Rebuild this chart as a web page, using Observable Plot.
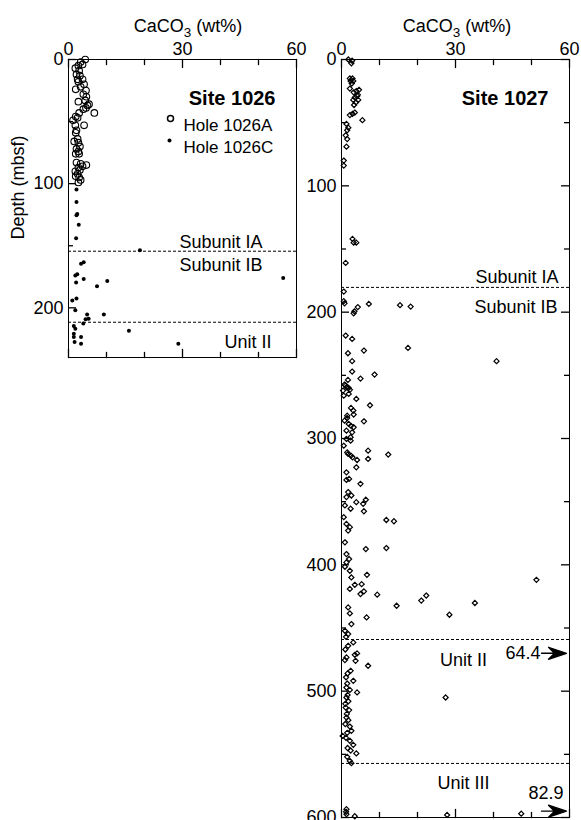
<!DOCTYPE html>
<html><head><meta charset="utf-8">
<script src="https://cdn.jsdelivr.net/npm/d3@7"></script>
<script src="https://cdn.jsdelivr.net/npm/@observablehq/plot@0.6"></script>
<style>
body{margin:0;background:#fff;font-family:"Liberation Sans",Arial,sans-serif;}
#wrap{position:relative;width:581px;height:820px;overflow:hidden;background:#fff;}
.panel{position:absolute;top:0;}
.title{position:absolute;top:17px;width:200px;text-align:center;font-size:18px;line-height:18px;color:#000;z-index:2;white-space:nowrap;}
.title sub{font-size:13.5px;vertical-align:-5px;line-height:0;}
</style></head>
<body><div id="wrap">
<div class="title" style="left:88px">CaCO<sub>3</sub> (wt%)</div>
<div class="title" style="left:357px">CaCO<sub>3</sub> (wt%)</div>
</div>
<script>
// ---------- data: [depth (mbsf), CaCO3 (wt%)] ----------
const HOLE_1026A = [
 [0,4.4],[2,3.2],[5,2.6],[7,1.8],[4,3.7],[9,2.8],[12,2.1],[13,3.0],[16,2.4],[16,3.7],[18,2.6],[20,4.1],
 [24,1.9],[22,3.2],[25,4.6],[28,3.9],[30,4.7],[34,2.6],[33,4.4],[36,5.4],[37,5.0],[39,4.6],[40,3.9],
 [43,6.8],[43,2.8],[46,1.9],[49,1.2],[47,2.4],[53,4.1],[53,1.8],[57,2.1],[59,1.9],[64,2.4],[66,1.5],
 [67,2.6],[70,3.0],[72,2.1],[74,2.6],[76,2.8],[76,1.9],[83,2.1],[84,3.2],[85,4.7],[86,3.7],[87,2.6],
 [90,1.8],[89,3.0],[92,2.4],[94,1.9],[95,2.8],[97,3.2],[99,2.6]
];
const HOLE_1026C = [
 [104.7,2.1],[114.7,2.1],[124.4,2.3],[125.5,2.1],[133,2.7],[143.9,2.0],[153.6,18.8],[163.3,4.0],[164.4,3.3],
 [173,2.3],[174,1.8],[176.8,4.0],[179.5,2.0],[182.7,7.5],[178.4,10.2],[176,56.5],[192.5,2.1],[194,1.0],
 [201.9,1.8],[205.4,4.9],[205.4,9.3],[209.2,4.5],[208.7,5.3],[212.7,3.9],[214.6,1.4],[216.8,1.8],
 [218.4,15.9],[220.8,1.4],[223.5,1.4],[223.5,3.3],[227.5,1.6],[228.9,3.3],[228.9,28.9]
];
const SITE_1027 = [
 [0,1.8],[1,2.8],[3,2.6],[15,2.2],[15,2.9],[17,2.4],[17,3.1],[19,2.7],[23,2.2],[26,3.2],[25,3.9],[24,4.6],
 [28,4.3],[30,3.5],[29,4.1],[32,3.1],[32,4.4],[34,3.8],[36,3.3],[43,2.9],[44,2.2],[42,3.5],[48,5.5],
 [51,1.3],[54,1.8],[56,1.5],[60,1.1],[63,1.5],[69,1.3],[80,0.6],[84,0.6],[142,2.9],[145,3.2],[145,3.9],[161,1.1],
 [183.7,0.6],[191.3,0.6],[193,0.8],[193.5,7.2],[194.5,15.4],[195.6,18.2],[196,4.3],[199.3,3.4],[200.9,3.2],
 [218.5,1.1],[221.2,2.8],[228.3,17.5],[230.4,5.9],[232.5,1.7],[238.8,2.8],[238.8,40.8],[247,2.8],[249.4,8.7],
 [252.6,5.0],[253.6,1.7],[257.3,0.8],[258,1.1],[259.5,1.3],[260,1.9],[261.5,2.2],[262.1,0.4],[264.7,1.9],
 [266.1,0.6],[268.7,3.9],[273.7,7.5],[275.8,2.5],[277.9,3.1],[281,3.2],[281.9,1.5],[283.7,1.5],[285.9,0.8],
 [286.4,5.9],[288.5,1.9],[290,2.5],[291.1,3.2],[293.8,1.3],[295.1,2.8],[299,2.4],
 [300.3,1.3],[301.7,2.4],[305.7,0.6],[309.6,7.0],[311,1.5],[312.2,1.75],[312.7,12.3],[313.6,2.5],[314.9,2.9],
 [316.2,7.0],[317,4.1],[322.8,3.9],[326.8,1.3],[332,2.0],[332.8,1.3],[335.9,5.0],[342.4,1.75],[345.1,2.6],
 [346.4,1.3],[348.5,6.4],[350.4,3.9],[351.7,5.7],[353,0.9],[355.6,2.4],[357.6,5.9],[362.3,0.6],[364.5,11.8],
 [365.5,13.8],[367.6,1.3],[370.2,2.2],[372.9,1.75],[382.2,0.9],[386.7,11.8],[387.5,6.4],[391.5,1.3],[395.4,2.0],
 [398.1,1.3],[401.5,0.9],[404.7,2.2],[407.9,6.7],[410,2.6],[411.9,51.3],[415.3,5.3],[415.8,3.5],[419.1,2.2],
 [421,5.9],[423.1,5.0],[423.6,9.4],[424.3,22.3],[428.3,21.0],[430.2,35.1],[432.4,14.5],[433.7,1.75],[438.5,2.2],
 [439.5,28.4],[441.6,6.6],[446.9,2.6],[452.2,0.9],[454.8,1.75],[457,1.2],[461.4,3.1],[464.1,1.75],[467,1.0],
 [470.1,4.1],[471.2,3.5],[473.3,1.3],[475.4,0.9],[476,3.7],[479.9,7.0],[483.9,2.4],[486,1.6],[489,1.2],
 [491.8,3.1],[494,1.5],[497.1,1.3],[499,2.2],[501,4.1],[503,1.6],[505,1.3],[505,27.4],[508,1.8],[510,1.0],
 [513,1.1],[515,2.0],[518,1.4],[520.9,1.3],[523,1.8],[526,1.0],[528,2.2],[531.4,2.6],[533,1.5],[535.4,0.3],
 [537,1.2],[539.3,2.2],[542.5,3.1],[545,1.6],[547,2.4],[549.3,3.9],[552,1.5],[555.2,2.2],[557,2.6],
 [593.4,1.3],[595.5,1.2],[597.4,1.3],[599,3.5],[598,27.8],[597,47.3]
];
const OFFSCALE_1027 = [[470, 64.4], [595, 82.9]];
const BOUNDS_1026 = [154.4, 211.6];          // Subunit IA/IB, Unit II
const BOUNDS_1027 = [180.4, 459.1, 557.2];   // Subunit IA/IB, Unit II, Unit III
const X_MAJOR = [0, 30, 60];
const X_MINOR = [10, 20, 40, 50];
const Y_MAJOR_1026 = [0, 100, 200];
const Y_MINOR_1026 = [50, 150];
const Y_MAJOR_1027 = [0, 100, 200, 300, 400, 500, 600];
const Y_MINOR_1027 = [50, 150, 250, 350, 450, 550];

// ---------- helpers ----------
const FONT = '"Liberation Sans", Arial, Helvetica, sans-serif';
const FRAME_W = 228;
const tickShape = {draw(context, l) { context.moveTo(0, 0); context.lineTo(0, -l); }};
// inward x ticks (top and bottom) drawn as short vectors
function xTicks(vals, len) {
  const o = {length: len, anchor: "start", shape: tickShape, stroke: "black", strokeWidth: 1.3};
  return [
    Plot.vector(vals, {...o, x: d => d, frameAnchor: "top", rotate: 180}),
    Plot.vector(vals, {...o, x: d => d, frameAnchor: "bottom", rotate: 0})
  ];
}
// inward y ticks drawn as rules inset from the opposite side of the frame
function yTicks(vals, len, right) {
  const tk = {stroke: "black", strokeWidth: 1.3};
  const m = [Plot.ruleY(vals, {...tk, insetRight: FRAME_W - len})];
  if (right) m.push(Plot.ruleY(vals, {...tk, insetLeft: FRAME_W - len}));
  return m;
}
function frameAxes(yMajor, yMinor, right) {
  return [
    Plot.frame({stroke: "black"}),
    Plot.axisX({anchor: "top", ticks: X_MAJOR, tickSize: 0, tickPadding: 5, label: null}),
    Plot.axisY({anchor: "left", ticks: yMajor, tickSize: 0, tickPadding: 5, label: null}),
    ...xTicks(X_MAJOR, 8),
    ...xTicks(X_MINOR, 5),
    ...yTicks(yMajor, 8, right),
    ...yTicks(yMinor, 5, right)
  ];
}
const style = {fontFamily: FONT, fontSize: "18px", color: "black", background: "transparent", overflow: "visible"};
const dash = {stroke: "black", strokeWidth: 1, strokeDasharray: "3,2"};

// ---------- Site 1026 ----------
const left = Plot.plot({
  width: 300, height: 380,
  marginLeft: 68, marginRight: 4, marginTop: 59, marginBottom: 23,
  style,
  x: {domain: [0, 60]},
  y: {domain: [0, 240], reverse: true},
  marks: [
    ...frameAxes(Y_MAJOR_1026, Y_MINOR_1026, false),
    Plot.ruleY(BOUNDS_1026, dash),
    Plot.dot(HOLE_1026A, {x: d => d[1], y: d => d[0], r: 3.3, stroke: "black", strokeWidth: 1.1, fill: "none"}),
    Plot.dot(HOLE_1026C, {x: d => d[1], y: d => d[0], r: 2, fill: "black", stroke: "none"}),
    Plot.text(["Site 1026"], {frameAnchor: "top-right", dx: -21, dy: 31, textAnchor: "end", fontWeight: "bold", fontSize: 20}),
    Plot.dot(["Hole 1026A"], {frameAnchor: "top-left", dx: 102, dy: 59, r: 3, stroke: "black", fill: "none"}),
    Plot.text(["Hole 1026A"], {frameAnchor: "top-left", dx: 115, dy: 59, textAnchor: "start", fontSize: 17}),
    Plot.dot(["Hole 1026C"], {frameAnchor: "top-left", dx: 101, dy: 81, r: 2, fill: "black", stroke: "none"}),
    Plot.text(["Hole 1026C"], {frameAnchor: "top-left", dx: 115, dy: 81, textAnchor: "start", fontSize: 17}),
    Plot.text([BOUNDS_1026[0]], {y: d => d, text: () => "Subunit IA", frameAnchor: "right", textAnchor: "end", dx: -34, dy: -9}),
    Plot.text([BOUNDS_1026[0]], {y: d => d, text: () => "Subunit IB", frameAnchor: "right", textAnchor: "end", dx: -34, dy: 14}),
    Plot.text([BOUNDS_1026[1]], {y: d => d, text: () => "Unit II", frameAnchor: "right", textAnchor: "end", dx: -25, dy: 20}),
    Plot.text(["Depth (mbsf)"], {frameAnchor: "left", rotate: -90, dx: -50, dy: -21, textAnchor: "middle"})
  ]
});
left.classList.add("panel");
left.style.left = "0px";

// ---------- Site 1027 ----------
const arrowShape = {
  draw(context, l) {
    context.moveTo(0, 0);
    context.lineTo(0, -l + 12);
    context.moveTo(0, -l);
    context.lineTo(-6, -l + 18);
    context.lineTo(0, -l + 12);
    context.lineTo(6, -l + 18);
    context.closePath();
  }
};
const right = Plot.plot({
  width: 281, height: 820,
  marginLeft: 41, marginRight: 12, marginTop: 59, marginBottom: 3,
  style,
  x: {domain: [0, 60]},
  y: {domain: [0, 600], reverse: true},
  marks: [
    ...frameAxes(Y_MAJOR_1027, Y_MINOR_1027, true),
    Plot.ruleY(BOUNDS_1027, dash),
    Plot.dot(SITE_1027, {x: d => d[1], y: d => d[0], symbol: "diamond2", r: 2.3, stroke: "black", strokeWidth: 1.2, fill: "none"}),
    Plot.vector(OFFSCALE_1027, {x: d => Math.min(d[1], 60), y: d => d[0], rotate: 90, length: 25, anchor: "end",
      shape: arrowShape, stroke: "black", fill: "black", strokeWidth: 1.3, dx: -3}),
    Plot.text([OFFSCALE_1027[0]], {x: d => Math.min(d[1], 60), y: d => d[0], text: d => d[1].toFixed(1), textAnchor: "end", dx: -29}),
    Plot.text([OFFSCALE_1027[1]], {x: d => Math.min(d[1], 60), y: d => d[0], text: d => d[1].toFixed(1), textAnchor: "end", dx: -6, dy: -18}),
    Plot.text(["Site 1027"], {frameAnchor: "top-right", dx: -21, dy: 31, textAnchor: "end", fontWeight: "bold", fontSize: 20}),
    Plot.text([BOUNDS_1027[0]], {y: d => d, text: () => "Subunit IA", frameAnchor: "right", textAnchor: "end", dx: -11, dy: -10}),
    Plot.text([BOUNDS_1027[0]], {y: d => d, text: () => "Subunit IB", frameAnchor: "right", textAnchor: "end", dx: -12, dy: 20}),
    Plot.text([BOUNDS_1027[1]], {y: d => d, text: () => "Unit II", frameAnchor: "right", textAnchor: "middle", dx: -106, dy: 21}),
    Plot.text([BOUNDS_1027[2]], {y: d => d, text: () => "Unit III", frameAnchor: "right", textAnchor: "middle", dx: -106, dy: 20})
  ]
});
right.classList.add("panel");
right.style.left = "300px";

const wrap = document.getElementById("wrap");
wrap.prepend(right);
wrap.prepend(left);
</script>
</body></html>
